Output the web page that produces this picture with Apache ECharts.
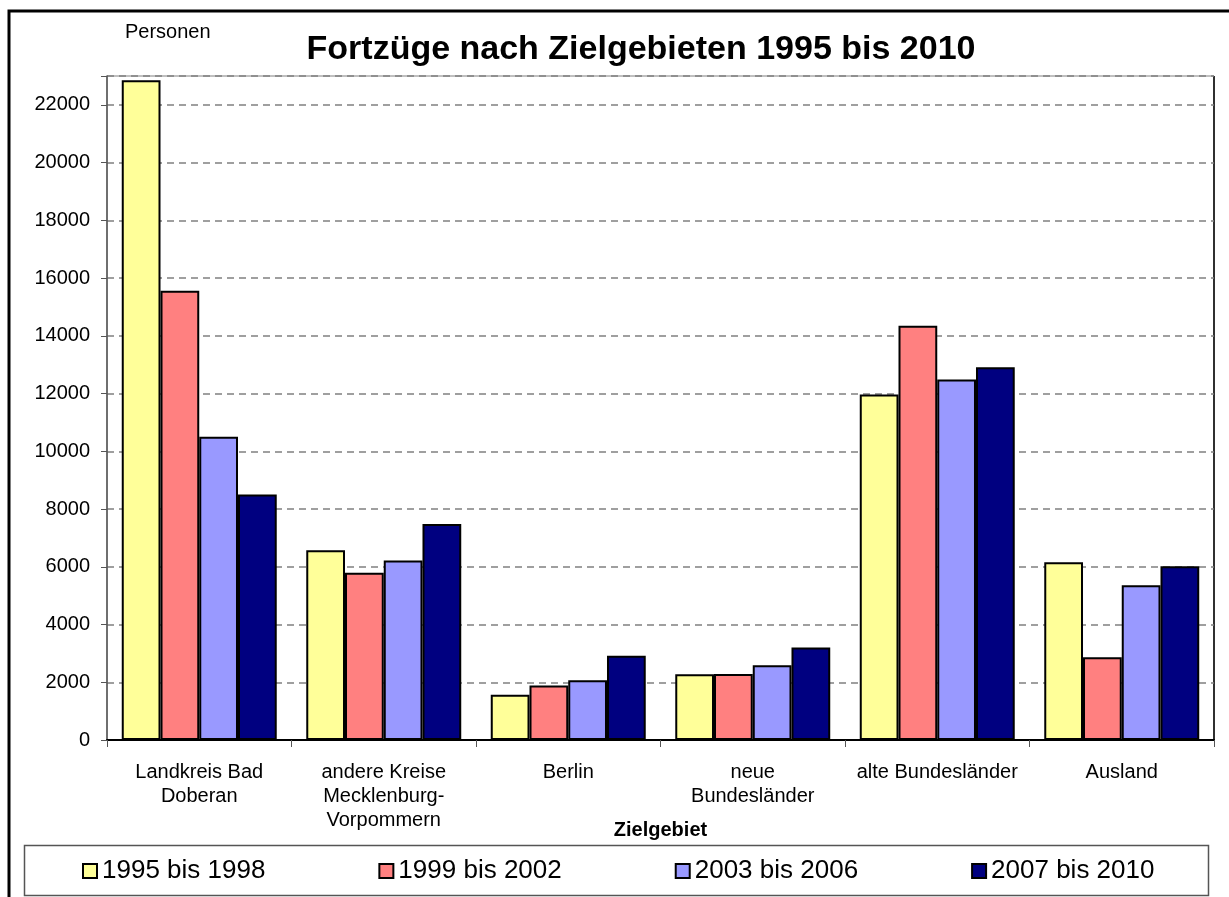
<!DOCTYPE html>
<html>
<head>
<meta charset="utf-8">
<script src="https://cdn.jsdelivr.net/npm/echarts@6/dist/echarts.min.js"></script>
<style>
    html, body { margin: 0; padding: 0; background: #fff; }
    #main { width: 1229px; height: 897px; }
</style>
</head>
<body>
<div id="main"></div>
<script>
// Zielgebiete
var categories = ['Landkreis Bad\nDoberan', 'andere Kreise\nMecklenburg-\nVorpommern', 'Berlin',
    'neue\nBundesländer', 'alte Bundesländer', 'Ausland'];
var seriesNames = ['1995 bis 1998', '1999 bis 2002', '2003 bis 2006', '2007 bis 2010'];
var values1995 = [22850, 6575, 1565, 2280, 11965, 6160];
var values1999 = [15560, 5790, 1890, 2290, 14350, 2865];
var values2003 = [10500, 6220, 2070, 2590, 12485, 5360];
var values2007 = [8500, 7480, 2915, 3200, 12910, 6020];
var yTicks = [0, 23000, 2000];

var colors = ['#FFFF99', '#FF8080', '#9999FF', '#000080'];
var font = 'Arial, "Liberation Sans", sans-serif';

var seriesData = [values1995, values1999, values2003, values2007];
var series = seriesNames.map(function(name, i) {
    return {
        name: name,
        type: 'bar',
        data: seriesData[i],
        barGap: '0%',
        barCategoryGap: '16%',
        itemStyle: {
            color: colors[i],
            borderColor: '#000',
            borderWidth: 2
        }
    };
});

var chart = echarts.init(document.getElementById('main'));
chart.setOption({
    animation: false,
    backgroundColor: '#fff',
    title: [{
        text: 'Fortzüge nach Zielgebieten 1995 bis 2010',
        left: 636,
        top: 28,
        textAlign: 'center',
        textStyle: { fontFamily: font, fontSize: 34, fontWeight: 'bold', color: '#000' }
    }, {
        text: 'Personen',
        left: 120,
        top: 17,
        textStyle: { fontFamily: font, fontSize: 20, fontWeight: 'normal', color: '#000' }
    }],
    legend: {
        data: seriesNames,
        left: 82,
        top: 858,
        padding: 0,
        itemWidth: 14,
        itemHeight: 14,
        itemGap: 113,
        icon: 'rect',
        itemStyle: { borderColor: '#000', borderWidth: 2 },
        textStyle: { fontFamily: font, fontSize: 26, color: '#000', padding: [0, 0, 0, 0] }
    },
    grid: {
        left: 107,
        right: 15,
        top: 76,
        bottom: 157,
        show: true,
        borderColor: '#808080',
        borderWidth: 1
    },
    xAxis: {
        type: 'category',
        data: categories,
        name: 'Zielgebiet',
        nameLocation: 'middle',
        nameGap: 80,
        nameMoveOverlap: false,
        nameTextStyle: { fontFamily: font, fontSize: 20, fontWeight: 'bold', color: '#000' },
        axisLine: { lineStyle: { color: '#000', width: 2 } },
        axisTick: { show: true, alignWithLabel: false, length: 7, lineStyle: { color: '#555' } },
        axisLabel: {
            fontFamily: font, fontSize: 20, color: '#000', lineHeight: 24, margin: 20,
            interval: 0, align: 'center'
        }
    },
    yAxis: {
        type: 'value',
        min: yTicks[0],
        max: yTicks[1],
        interval: yTicks[2],
        axisLine: { show: true, lineStyle: { color: '#555', width: 1.5 } },
        axisTick: { show: true, inside: false, length: 6, lineStyle: { color: '#555' } },
        axisLabel: {
            fontFamily: font, fontSize: 20, color: '#000', margin: 17,
            formatter: function(v) { return v === yTicks[1] ? '' : String(v); }
        },
        splitLine: { show: true, lineStyle: { color: '#808080', type: [7, 5], width: 1.5 } }
    },
    graphic: [{
        type: 'rect',
        shape: { x: 9, y: 11, width: 1400, height: 1000 },
        style: { fill: 'none', stroke: '#000', lineWidth: 3 },
        silent: true
    }, {
        type: 'rect',
        shape: { x: 24.5, y: 845.5, width: 1184, height: 50 },
        style: { fill: 'none', stroke: '#555', lineWidth: 1.5 },
        silent: true
    }, {
        // rechter Rand der Zeichenfläche
        type: 'line',
        shape: { x1: 1214, y1: 76, x2: 1214, y2: 740 },
        style: { stroke: '#000', lineWidth: 1.5 },
        silent: true
    }],
    series: series
});
</script>
</body>
</html>
